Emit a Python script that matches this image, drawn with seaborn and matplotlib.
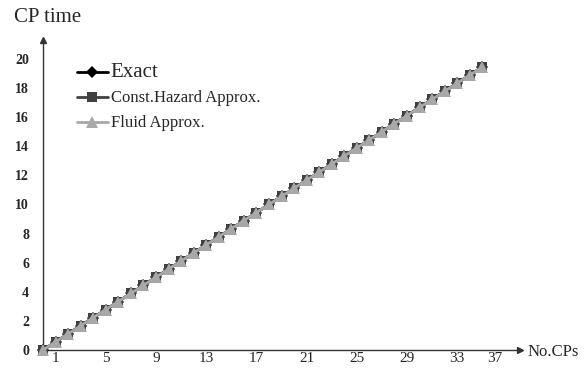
import matplotlib
matplotlib.use("Agg")
import matplotlib.pyplot as plt
import seaborn as sns
import pandas as pd

# Number of checkpoints and the resulting checkpoint time for each method
no_cps = list(range(0, 36))
exact = [0.0, 0.56, 1.11, 1.67, 2.22, 2.78, 3.33, 3.89, 4.44, 5.0, 5.56, 6.11,
         6.67, 7.22, 7.78, 8.33, 8.89, 9.44, 10.0, 10.56, 11.11, 11.67, 12.22,
         12.78, 13.33, 13.89, 14.44, 15.0, 15.56, 16.11, 16.67, 17.22, 17.78,
         18.33, 18.89, 19.44]
const_hazard = list(exact)
fluid = list(exact)

x_tick_pos = [1, 5, 9, 13, 17, 21, 25, 29, 33, 36]
x_tick_labels = ["1", "5", "9", "13", "17", "21", "25", "29", "33", "37"]
y_ticks = [0, 2, 4, 6, 8, 10, 12, 14, 16, 18, 20]

sns.set_style("white")
plt.rcParams["font.family"] = ["Liberation Serif", "DejaVu Serif"]

df = pd.DataFrame({"x": no_cps, "Exact": exact,
                   "Const.Hazard Approx.": const_hazard,
                   "Fluid Approx.": fluid})

fig = plt.figure(figsize=(5.87, 3.70), dpi=100)
ax = fig.add_axes([43 / 587, 1 - 350 / 370, (520 - 43) / 587, (350 - 40) / 370])

styles = [
    ("Exact", "#000000", "D", 6),
    ("Const.Hazard Approx.", "#404040", "s", 7.5),
    ("Fluid Approx.", "#a8a8a8", "^", 9),
]
for name, color, marker, ms in styles:
    sns.lineplot(data=df, x="x", y=name, ax=ax, color=color, marker=marker,
                 markersize=ms, markeredgewidth=0, linewidth=2.0, label=name,
                 clip_on=False, zorder=3)

ax.set_xlim(0, 38)
ax.set_ylim(0, 21.3)
ax.set_xticks(x_tick_pos)
ax.set_xticklabels(x_tick_labels)
ax.set_yticks(y_ticks)
ax.set_xlabel("")
ax.set_ylabel("")

for side in ("top", "right"):
    ax.spines[side].set_visible(False)
for side in ("left", "bottom"):
    ax.spines[side].set_color("#333333")
    ax.spines[side].set_linewidth(1.0)

ax.tick_params(axis="both", direction="in", length=3, width=0.8,
               color="#333333")
ax.tick_params(axis="y", pad=10, labelsize=10)
ax.tick_params(axis="x", pad=1.5, labelsize=11)
for lbl in ax.get_yticklabels():
    lbl.set_fontweight("bold")

# Arrowheads at the ends of both axes
ax.plot(1, 0, ">", color="#333333", markersize=5, transform=ax.transAxes,
        clip_on=False)
ax.plot(0, 1, "^", color="#333333", markersize=5, transform=ax.transAxes,
        clip_on=False)

fig.text(14 / 587, 1 - 18 / 370, "CP time", fontsize=15, va="center",
         ha="left")
fig.text(528 / 587, 1 - 352 / 370, "No.CPs", fontsize=12, va="center",
         ha="left")

leg = ax.legend(loc="upper left", bbox_to_anchor=(0.06, 0.945), frameon=False,
                handlelength=2.2, handletextpad=0.2, labelspacing=0.62,
                borderaxespad=0)
sizes = [15, 12, 12]
for txt, s in zip(leg.get_texts(), sizes):
    txt.set_fontsize(s)

fig.savefig("out.png", dpi=100)
